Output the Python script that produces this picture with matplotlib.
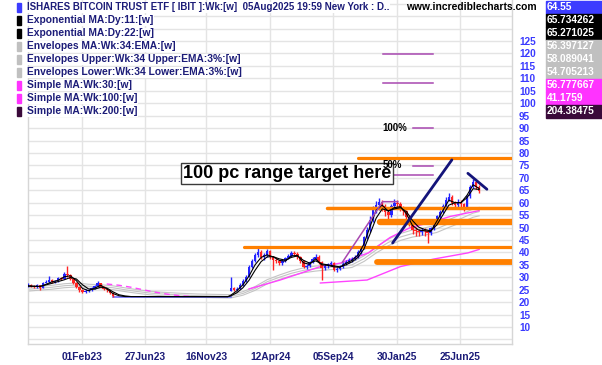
import matplotlib
matplotlib.use('Agg')
import matplotlib.pyplot as plt
import matplotlib.dates as mdates
from matplotlib.patches import Rectangle
import numpy as np
import pandas as pd

plt.rcParams['font.family'] = ['Liberation Sans', 'DejaVu Sans']

W, H = 602, 365

# ---- weekly candles, first block (Oct 2022 - Apr 2023)
start_a = '2022-09-30'
first_open_a = 26.0
close_a = [26.9, 26.5, 26.2, 26.9, 25.7, 27.7, 28.2, 28.9, 28.2, 28.5, 29.7, 29.5, 31.5, 30.8, 29.5,
           27.8, 26.2, 24.9, 24.2, 24.6, 24.9, 25.7, 26.5, 27.7, 26.2, 25.2, 24.7, 23.7, 22.5]
high_a = [27.5, 27.3, 27.0, 27.4, 27.0, 28.3, 28.8, 30.6, 29.3, 29.0, 30.3, 30.2, 32.0, 34.5, 31.2,
          29.9, 28.2, 26.6, 25.2, 25.1, 25.3, 26.1, 26.9, 28.6, 27.9, 26.4, 25.5, 24.9, 23.9]
low_a = [25.9, 25.9, 25.7, 25.8, 24.8, 25.5, 27.5, 27.8, 27.6, 27.7, 28.2, 28.9, 29.2, 30.2, 29.0,
         27.3, 25.6, 24.2, 23.6, 23.8, 24.2, 24.6, 25.4, 26.2, 25.9, 24.7, 24.2, 23.3, 22.2]

# flat stretch before listing
flat_start, flat_end, flat_level = '2023-04-14', '2024-01-12', 22.2

# ---- weekly candles, second block (Jan 2024 - Aug 2025)
start_b = '2024-01-12'
first_open_b = 24.5
close_b = [25.5, 25.0, 25.4, 27.0, 28.7, 30.3, 34.0, 36.5, 38.8, 40.3, 38.3, 38.8, 40.5, 38.0, 37.0,
           36.5, 35.7, 36.5, 37.7, 38.5, 39.8, 39.5, 38.0, 36.5, 34.3, 34.5, 36.0, 37.5, 38.3, 36.0,
           33.7, 34.5, 35.2, 35.7, 33.0, 33.5, 34.3, 35.5, 36.3, 36.8, 37.5, 38.3, 40.0, 41.8, 46.0,
           49.0, 53.0, 57.5, 59.0, 60.4, 58.5, 56.4, 55.0, 58.5, 60.0, 59.5, 58.0, 56.5, 54.4, 51.7,
           49.0, 48.5, 48.3, 49.0, 48.5, 47.8, 49.8, 52.0, 54.5, 56.4, 58.5, 61.0, 62.4, 60.0, 59.0,
           60.4, 59.5, 58.4, 62.5, 66.5, 68.4, 66.5, 64.55]
high_b = [30.1, 26.0, 26.0, 27.5, 29.3, 31.0, 34.8, 37.5, 39.6, 41.8, 40.9, 39.9, 41.2, 40.9, 38.6,
          37.8, 37.0, 37.2, 38.3, 39.3, 40.6, 40.7, 40.0, 38.4, 36.8, 35.3, 36.6, 38.1, 39.2, 38.8,
          36.4, 35.4, 35.9, 36.4, 36.0, 34.2, 34.9, 36.0, 37.0, 37.6, 38.3, 39.0, 40.8, 42.5, 46.8,
          50.2, 54.5, 58.6, 60.8, 61.9, 61.2, 59.6, 57.8, 59.4, 61.5, 61.2, 60.2, 58.7, 57.0, 55.1,
          52.3, 50.2, 49.6, 50.0, 49.8, 49.0, 50.4, 52.6, 55.2, 57.2, 59.3, 62.4, 63.8, 62.9, 60.8,
          61.5, 61.2, 60.0, 63.2, 67.2, 69.5, 68.9, 67.0]
low_b = [24.4, 24.3, 24.6, 25.1, 26.6, 28.3, 30.0, 33.6, 36.0, 38.3, 37.2, 36.8, 38.0, 37.5, 33.0,
         35.6, 34.8, 35.1, 36.0, 37.2, 38.1, 38.8, 37.4, 35.8, 33.6, 33.2, 34.0, 35.6, 37.0, 35.4,
         28.9, 32.8, 33.9, 34.6, 32.4, 32.1, 32.9, 33.8, 35.0, 35.7, 36.2, 37.0, 37.8, 39.5, 41.2,
         45.2, 48.3, 52.1, 55.8, 57.2, 56.6, 54.8, 53.6, 54.3, 57.6, 57.9, 56.7, 55.2, 53.0, 50.5,
         47.3, 46.8, 46.5, 47.0, 46.4, 43.8, 47.1, 49.2, 51.6, 54.0, 55.9, 58.0, 60.5, 59.2, 58.0,
         58.4, 58.2, 56.7, 58.0, 62.0, 65.8, 65.3, 64.0]

# ---- indicator lines
ema11_dates = ['2022-09-30', '2022-10-14', '2022-10-28', '2022-11-11', '2022-11-25', '2022-12-09',
               '2022-12-23', '2023-01-06', '2023-01-20', '2023-02-03', '2023-02-17', '2023-03-03',
               '2023-03-17', '2023-03-31', '2023-04-14', '2023-04-28', '2023-05-12', '2024-01-05',
               '2024-01-12', '2024-01-26', '2024-02-09', '2024-02-23', '2024-03-08', '2024-03-22',
               '2024-04-05', '2024-04-19', '2024-05-03', '2024-05-17', '2024-05-31', '2024-06-14',
               '2024-06-28', '2024-07-12', '2024-07-26', '2024-08-09', '2024-08-23', '2024-09-06',
               '2024-09-20', '2024-10-04', '2024-10-18', '2024-11-01', '2024-11-15', '2024-11-29',
               '2024-12-13', '2024-12-27', '2025-01-10', '2025-01-24', '2025-02-07', '2025-02-21',
               '2025-03-07', '2025-03-21', '2025-04-04', '2025-04-18', '2025-05-02', '2025-05-16',
               '2025-05-30', '2025-06-13', '2025-06-27', '2025-07-11', '2025-07-25', '2025-08-08']
ema11_vals = [26.6, 26.4, 26.3, 27.2, 28.2, 28.8, 30.2, 30.6, 28.6, 25.5, 24.6, 25.6, 26.8, 25.4, 23.5,
              22.6, 22.25, 22.2, 22.8, 24.6, 27.0, 30.5, 35.0, 38.0, 39.0, 38.2, 36.8, 36.5, 38.6, 38.8,
              35.8, 35.2, 37.4, 35.0, 34.8, 34.2, 34.0, 35.6, 36.8, 39.0, 43.5, 50.5, 57.0, 59.0, 56.5,
              58.0, 58.4, 55.5, 50.8, 49.0, 48.7, 48.4, 52.5, 56.8, 61.0, 60.0, 60.0, 63.0, 67.2, 65.7]

ema22_dates = ['2022-09-30', '2022-10-28', '2022-11-25', '2022-12-23', '2023-01-06', '2023-01-20',
               '2023-02-03', '2023-02-17', '2023-03-03', '2023-03-17', '2023-03-31', '2023-04-14',
               '2023-04-28', '2023-05-12', '2023-05-26', '2024-01-05',
               '2024-01-12', '2024-01-26', '2024-02-09', '2024-02-23', '2024-03-08', '2024-03-22',
               '2024-04-05', '2024-04-19', '2024-05-03', '2024-05-17', '2024-05-31', '2024-06-14',
               '2024-06-28', '2024-07-12', '2024-07-26', '2024-08-09', '2024-08-23', '2024-09-06',
               '2024-09-20', '2024-10-04', '2024-10-18', '2024-11-01', '2024-11-15', '2024-11-29',
               '2024-12-13', '2024-12-27', '2025-01-10', '2025-01-24', '2025-02-07', '2025-02-21',
               '2025-03-07', '2025-03-21', '2025-04-04', '2025-04-18', '2025-05-02', '2025-05-16',
               '2025-05-30', '2025-06-13', '2025-06-27', '2025-07-11', '2025-07-25', '2025-08-08']
ema22_vals = [26.4, 26.3, 27.6, 29.0, 29.9, 29.3, 27.0, 25.3, 25.2, 26.0, 25.7, 24.2, 23.0, 22.5, 22.25,
              22.2, 22.5, 23.8, 25.8, 28.8, 32.8, 36.3, 38.2, 38.3, 37.4, 36.9, 38.0, 38.6, 36.8, 35.7,
              36.6, 35.4, 35.0, 34.6, 34.2, 35.0, 36.2, 38.0, 41.5, 47.5, 53.8, 57.5, 56.8, 57.5, 58.0,
              56.4, 52.8, 50.2, 49.2, 48.7, 51.0, 55.0, 59.0, 60.0, 60.0, 62.0, 65.6, 65.3]

env_dates = ['2022-09-30', '2022-10-28', '2022-11-25', '2022-12-23', '2023-01-20', '2023-02-17',
             '2023-03-17', '2023-04-14', '2023-05-12', '2023-06-09', '2023-07-07', '2023-08-04',
             '2023-09-15', '2023-10-27', '2023-12-08', '2024-01-12', '2024-02-09', '2024-03-08',
             '2024-04-05', '2024-05-03', '2024-05-31', '2024-06-28', '2024-07-26', '2024-08-23',
             '2024-09-20', '2024-10-18', '2024-11-15', '2024-12-13', '2025-01-10', '2025-02-07',
             '2025-03-07', '2025-04-04', '2025-05-02', '2025-05-30', '2025-06-27', '2025-07-25',
             '2025-08-08']
env_mid = [25.2, 25.6, 26.0, 26.6, 26.9, 26.4, 26.2, 25.8, 25.0, 24.3, 23.7, 23.3, 22.9, 22.6, 22.45,
           22.35, 23.5, 25.5, 28.2, 30.0, 31.6, 32.8, 33.5, 34.0, 34.4, 35.0, 37.5, 41.0, 44.0, 46.2,
           47.6, 48.4, 49.5, 51.6, 53.6, 55.8, 56.4]
env_pct = 3.0

sma30_old_dates = ['2023-03-31', '2023-04-28', '2023-05-26', '2023-06-23', '2023-07-21', '2023-08-18',
                   '2023-09-15', '2023-10-13']
sma30_old_vals = [27.3, 26.8, 26.0, 25.0, 24.0, 23.2, 22.6, 22.25]
sma30_dates = ['2024-02-23', '2024-05-05', '2024-08-06', '2024-09-21', '2024-11-25', '2025-01-14',
               '2025-03-02', '2025-04-17', '2025-06-03', '2025-08-08']
sma30_vals = [25.3, 28.9, 34.3, 35.7, 39.8, 46.0, 50.0, 52.0, 54.5, 56.8]
sma100_dates = ['2024-08-06', '2024-11-22', '2025-02-07', '2025-04-24', '2025-07-13', '2025-08-08']
sma100_vals = [27.7, 28.9, 34.3, 37.3, 39.8, 41.2]

# ---- drawn annotations
orange_starts = ['2024-02-11', '2024-08-21', '2024-12-21', '2024-11-01', '2024-12-14']
orange_levels = [42.0, 58.0, 52.3, 77.8, 36.0]
orange_widths = [2.3, 2.5, 4.6, 2.3, 4.2]
chart_end = '2025-11-30'

navy_lines = [(['2025-01-20', '2025-06-06'], [43.8, 77.2]),
              (['2025-07-13', '2025-08-26'], [71.8, 65.4])]

purple_lines = [(['2024-09-26', '2024-12-28', '2025-02-01'], [36.1, 60.4, 60.4]),
                (['2024-12-28', '2025-04-23'], [119.7, 119.7]),
                (['2024-12-28', '2025-04-23'], [108.0, 108.0]),
                (['2025-03-07', '2025-04-23'], [90.0, 90.0]),
                (['2025-03-07', '2025-04-23'], [74.9, 74.9]),
                (['2024-12-28', '2025-04-23'], [71.1, 71.1])]
pct_labels = ['100%', '50%']
pct_label_dates = ['2025-02-23', '2025-02-10']
pct_label_vals = [90.0, 75.3]

note_text = '100 pc range target here'
note_date, note_val = '2024-05-21', 71.6

tick_dates = ['2023-02-01', '2023-06-27', '2023-11-16', '2024-04-12', '2024-09-05', '2025-01-30', '2025-06-25']
tick_labels = ['01Feb23', '27Jun23', '16Nov23', '12Apr24', '05Sep24', '30Jan25', '25Jun25']
y_ticks = list(range(10, 126, 5))

legend_rows = ['ISHARES BITCOIN TRUST ETF [ IBIT ]:Wk:[w]  05Aug2025 19:59 New York : D..',
               'Exponential MA:Dy:11:[w]', 'Exponential MA:Dy:22:[w]', 'Envelopes MA:Wk:34:EMA:[w]',
               'Envelopes Upper:Wk:34 Upper:EMA:3%:[w]', 'Envelopes Lower:Wk:34 Lower:EMA:3%:[w]',
               'Simple MA:Wk:30:[w]', 'Simple MA:Wk:100:[w]', 'Simple MA:Wk:200:[w]']
last_values = ['64.55', '65.734262', '65.271025', '56.397127', '58.089041', '54.705213',
               '56.777667', '41.1759', '204.38475']
row_colors = ['#3c3cff', '#000000', '#000000', '#c0c0c0', '#c0c0c0', '#c0c0c0',
              '#ff33ff', '#ff33ff', '#3a0a3a']

BLUE = '#2424ff'
RED = '#ff2424'
NAVY = '#1c1c78'


def d(s):
    return mdates.date2num(pd.to_datetime(s))


def draw_candles(ax, start, first_open, closes, highs, lows):
    x = mdates.date2num(pd.date_range(start, periods=len(closes), freq='7D'))
    c = np.array(closes)
    o = np.concatenate([[first_open], c[:-1]])
    cols = np.where(c >= o, BLUE, RED)
    ax.vlines(x, lows, highs, colors=cols, lw=1.0, zorder=3)
    body = np.maximum(np.abs(c - o), 0.35)
    ax.bar(x, body, bottom=np.minimum(o, c), width=5.6, color=cols, linewidth=0, zorder=3)


fig = plt.figure(figsize=(W / 100, H / 100), dpi=100)
ax = fig.add_axes([28 / W, 21 / H, 484 / W, 344 / H])

# grid
for lvl in range(5, 141, 5):
    ax.axhline(lvl, color='#e4e4e4', lw=1.0, zorder=0)
for td in tick_dates:
    ax.axvline(d(td), color='#e4e4e4', lw=1.0, zorder=0)

# envelopes (grey)
env_x = [d(s) for s in env_dates]
env_mid = np.array(env_mid)
for k in (-1, 0, 1):
    ax.plot(env_x, env_mid * (1 + k * env_pct / 100), color='#c4c4c4', lw=0.8, zorder=1)

# simple MAs
ax.plot([d(s) for s in sma30_old_dates], sma30_old_vals, color='#ff44ff', lw=1.0,
        ls=(0, (4, 3)), zorder=1)
ax.plot([d(s) for s in sma30_dates], sma30_vals, color='#ff44ff', lw=1.0, zorder=1)
ax.plot([d(s) for s in sma100_dates], sma100_vals, color='#ff44ff', lw=1.0, zorder=1)

# flat stretch
ax.plot([d(flat_start), d(flat_end)], [flat_level, flat_level], color='#7a7aff', lw=1.3, zorder=2)

draw_candles(ax, start_a, first_open_a, close_a, high_a, low_a)
draw_candles(ax, start_b, first_open_b, close_b, high_b, low_b)

# orange support / resistance
for st, lvl, lw in zip(orange_starts, orange_levels, orange_widths):
    ax.plot([d(st), d(chart_end)], [lvl, lvl], color='#ff8000', lw=lw,
            solid_capstyle='round', zorder=4)

# EMAs
ax.plot([d(s) for s in ema22_dates], ema22_vals, color='#000000', lw=0.8, zorder=5)
ax.plot([d(s) for s in ema11_dates], ema11_vals, color='#000000', lw=0.8, zorder=5)

for xs, ys in navy_lines:
    ax.plot([d(s) for s in xs], ys, color='#14147a', lw=2.0, solid_capstyle='round', zorder=6)
for xs, ys in purple_lines:
    ax.plot([d(s) for s in xs], ys, color='#a848b0', lw=1.1, zorder=6)

ax.text(d(note_date), note_val, note_text, ha='center', va='center', fontsize=13,
        fontweight='bold', color='#000000', zorder=8,
        bbox=dict(boxstyle='square,pad=0.12', fc='white', ec='#3a3a3a', lw=1.0))
for lab, ld, lv in zip(pct_labels, pct_label_dates, pct_label_vals):
    ax.text(d(ld), lv, lab, ha='right', va='center', fontsize=7, fontweight='bold',
            color='#000000', zorder=9)

# axes styling
ax.set_xlim(d('2022-09-30'), d('2025-10-23'))
ax.set_ylim(3.17, 141.5)
ax.set_xticks([d(s) for s in tick_dates])
ax.set_xticklabels(tick_labels, fontsize=7.4, fontweight='bold', color=NAVY)
ax.yaxis.tick_right()
ax.set_yticks(y_ticks)
ax.set_yticklabels([str(v) for v in y_ticks], fontsize=7.2, fontweight='bold', color='#3a3aff')
ax.tick_params(axis='both', length=0)
ax.tick_params(axis='x', pad=6)
ax.tick_params(axis='y', pad=5)
ax.spines['top'].set_visible(False)
for side in ('left', 'right', 'bottom'):
    ax.spines[side].set_color('#d6d6d6')
    ax.spines[side].set_linewidth(1.0)

# legend block and last values
for i, (txt, col, val) in enumerate(zip(legend_rows, row_colors, last_values)):
    yc = 7.2 + 13 * i
    fs = 7.0 if i == 0 else 7.4
    fig.add_artist(Rectangle((16.5 / W, 1 - (yc + 4.5) / H), 4.5 / W, 9 / H,
                             transform=fig.transFigure, color=col, zorder=10))
    fig.text(27 / W, 1 - yc / H, txt, ha='left', va='center', fontsize=fs, fontweight='bold',
             color=NAVY, zorder=11,
             bbox=dict(fc='white', ec='none', pad=0.3))
    fig.add_artist(Rectangle((545.5 / W, 1 - (yc + 6.5) / H), 57 / W, 13 / H,
                             transform=fig.transFigure, color=col, zorder=10))
    fig.text(547 / W, 1 - yc / H, val, ha='left', va='center', fontsize=7.3, fontweight='bold',
             color='white', zorder=11)

fig.text(406 / W, 1 - 7.2 / H, 'www.incrediblecharts.com', ha='left', va='center', fontsize=7.4,
         fontweight='bold', color='#000000', zorder=11)

fig.savefig('out.png', dpi=100)
